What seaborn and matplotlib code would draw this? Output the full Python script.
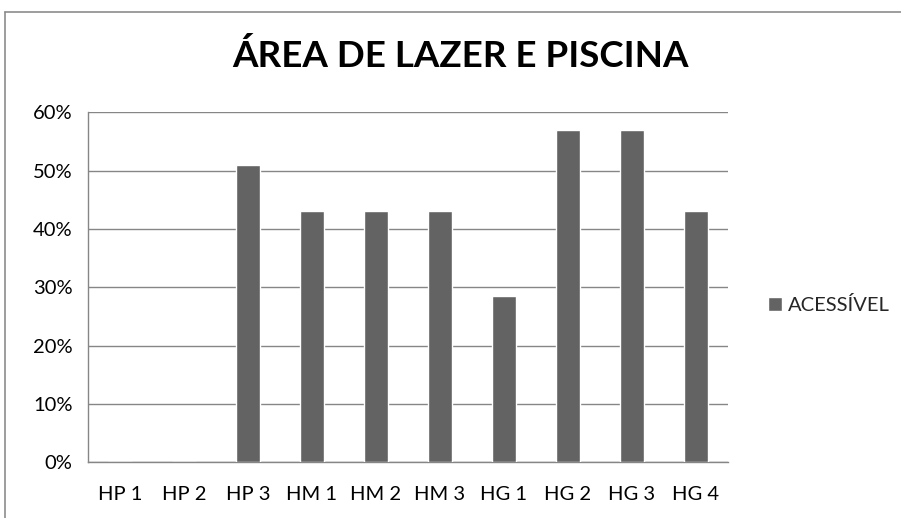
import numpy as np
import pandas as pd
import seaborn as sns
import matplotlib.pyplot as plt
from matplotlib.lines import Line2D
from matplotlib.ticker import PercentFormatter

# data
categorias = ['HP 1', 'HP 2', 'HP 3', 'HM 1', 'HM 2', 'HM 3', 'HG 1', 'HG 2', 'HG 3', 'HG 4']
acessivel = [0.0, 0.0, 0.51, 0.43, 0.43, 0.43, 0.285, 0.57, 0.57, 0.43]
serie = 'ACESSÍVEL'
titulo = 'ÁREA DE LAZER E PISCINA'

df = pd.DataFrame({'categoria': categorias, 'valor': acessivel})

sns.set_style('white')
plt.rcParams['font.family'] = ['Lato', 'DejaVu Sans']

grid_color = '#868686'

fig = plt.figure(figsize=(9.01, 5.18), dpi=100)
ax = fig.add_axes([88 / 901, 1 - 462.3 / 518, 640 / 901, 350 / 518])

sns.barplot(data=df, x='categoria', y='valor', color='#636363', width=0.39,
            saturation=1, label=serie, ax=ax, zorder=3)

ax.set_ylim(0, 0.6)
ax.set_xlim(-0.5, len(categorias) - 0.5)
ax.set_yticks(np.arange(0, 0.61, 0.1))
ax.yaxis.set_major_formatter(PercentFormatter(1.0, decimals=0))
ax.grid(axis='y', color=grid_color, linewidth=1, zorder=0)
ax.set_xlabel('')
ax.set_ylabel('')

for s in ['top', 'right']:
    ax.spines[s].set_visible(False)
for s in ['left', 'bottom']:
    ax.spines[s].set_color(grid_color)
    ax.spines[s].set_linewidth(1)

# category boundary ticks like the spreadsheet chart
ax.set_xticks(np.arange(-0.5, len(categorias), 1.0), minor=True)
ax.tick_params(axis='x', which='major', length=0, labelsize=14.5, pad=17, colors='black')
ax.tick_params(axis='x', which='minor', length=6, width=1, color=grid_color, direction='out')
ax.tick_params(axis='y', length=6, width=1, color=grid_color, direction='out', labelsize=14.5,
               pad=5, labelcolor='black')

fig.text(0.511, 1 - 56 / 518, titulo, ha='center', va='center', fontsize=26.5,
         fontweight='bold', color='black')

ax.legend(loc='center left', bbox_to_anchor=(1.05, 0.45), frameon=False, fontsize=14.5,
          handlelength=0.7, handleheight=0.7, handletextpad=0.3, borderaxespad=0)

# chart frame (cropped at right and bottom)
fig.add_artist(Line2D([5 / 901, 1], [1 - 12 / 518, 1 - 12 / 518], color='#8c8c8c', linewidth=1.2))
fig.add_artist(Line2D([5 / 901, 5 / 901], [0, 1 - 12 / 518], color='#8c8c8c', linewidth=1.2))

fig.savefig('out.png', dpi=100)
